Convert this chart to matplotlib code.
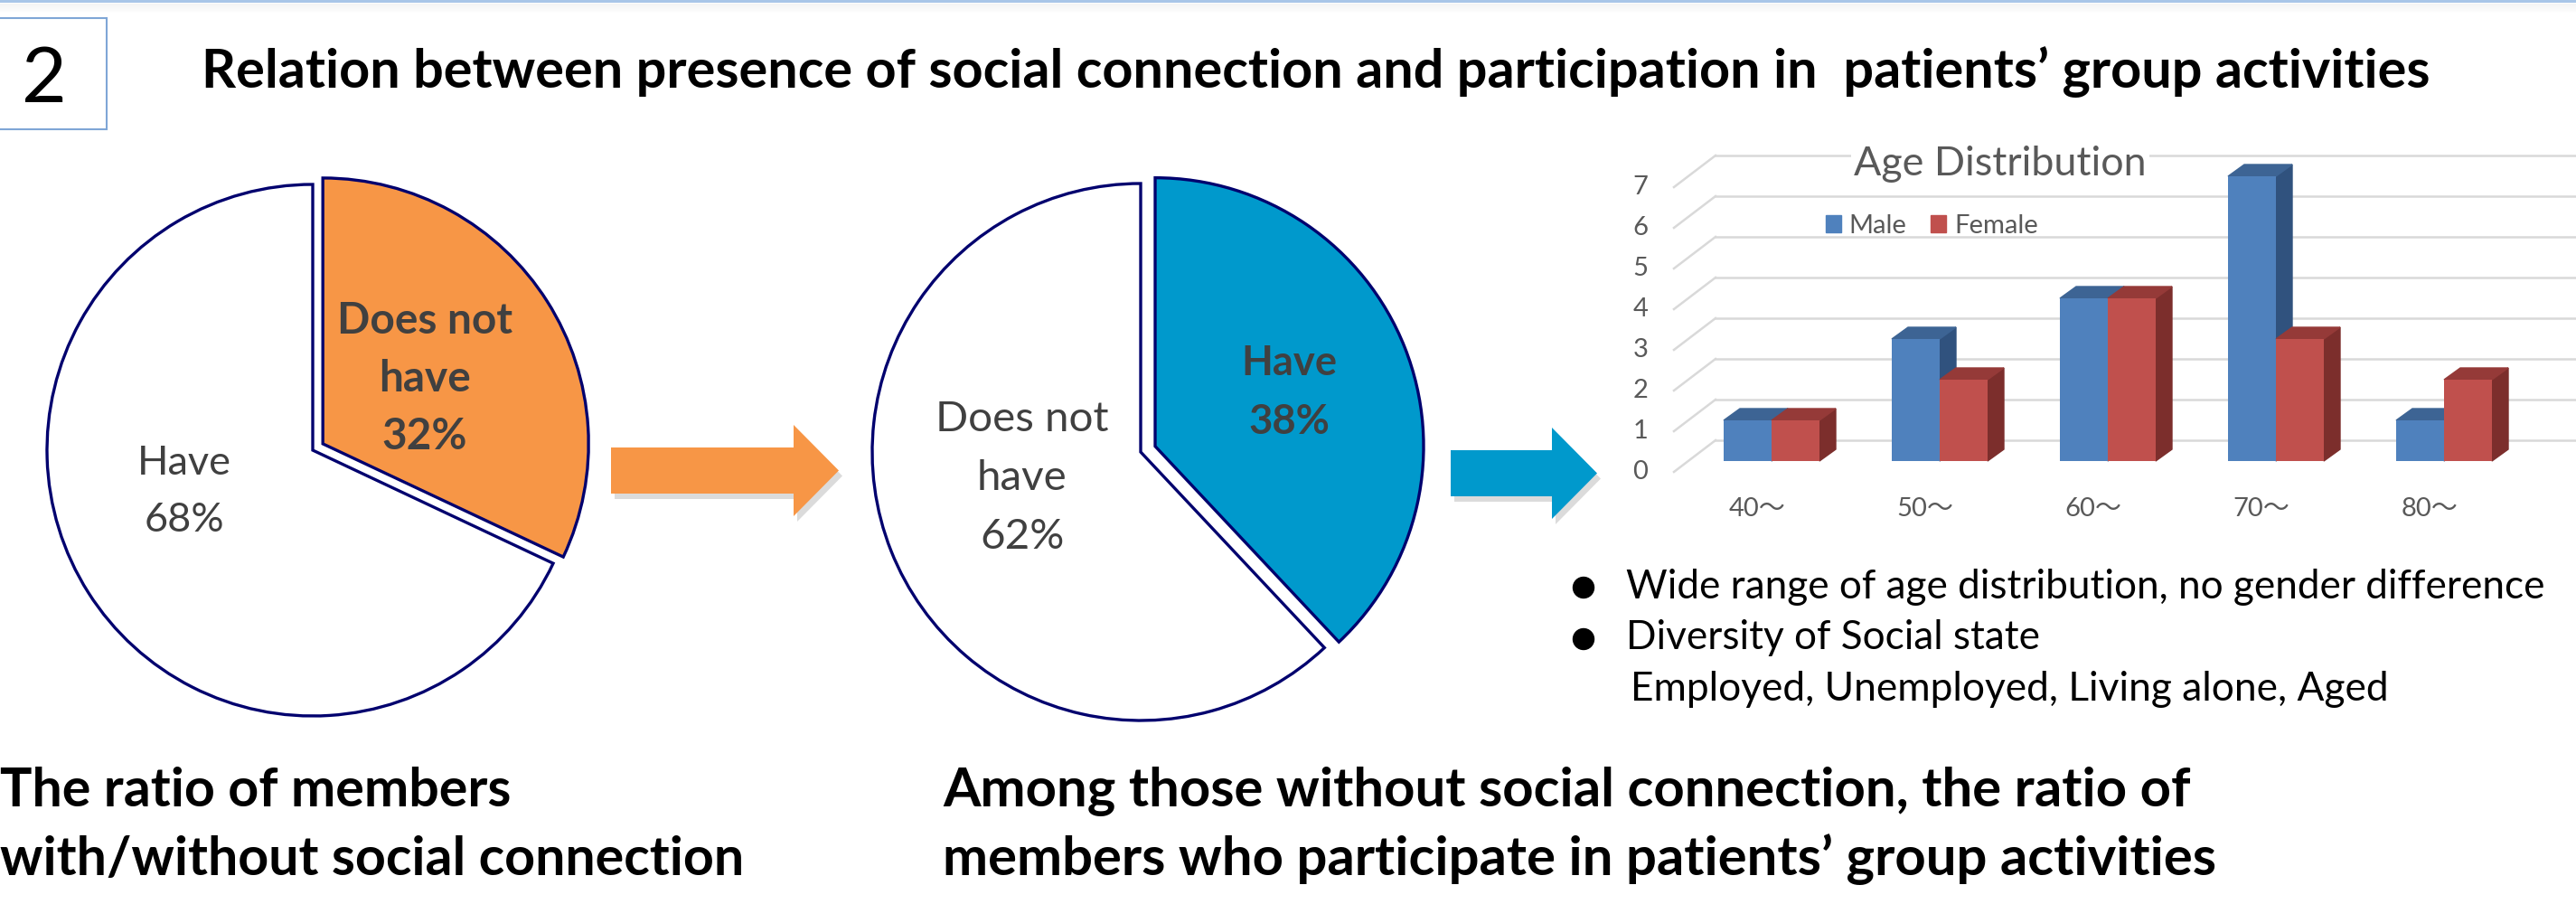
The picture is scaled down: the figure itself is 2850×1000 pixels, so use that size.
import matplotlib
matplotlib.use('Agg')
import matplotlib.pyplot as plt
from matplotlib.patches import Polygon, Rectangle, Circle, Patch

# data
pie1_names = ['Does not\nhave', 'Have']
pie1_values = [32, 68]
pie2_names = ['Have', 'Does not\nhave']
pie2_values = [38, 62]

ages = ['40～', '50～', '60～', '70～', '80～']
male = [1, 3, 4, 7, 1]
female = [1, 2, 4, 3, 2]

W, H = 2850, 1000
ORANGE = '#F79646'
BLUE = '#0099CC'
NAVY = '#00006E'
TXT = '#404040'
GREY = '#595959'
FONT = ['Lato', 'Noto Sans CJK JP', 'DejaVu Sans']
plt.rcParams['font.family'] = FONT

fig = plt.figure(figsize=(W / 100, H / 100), dpi=100)
rend = fig.canvas.get_renderer()


def pie_axes(cx, cy, r, pad=1.1):
    s = r * pad
    ax = fig.add_axes([(cx - s) / W, 1 - (cy + s) / H, 2 * s / W, 2 * s / H])
    return ax


def fit(t, width):
    w = t.get_window_extent(renderer=rend).width
    t.set_fontsize(t.get_fontsize() * width / w)
    return t.get_fontsize()


# pies
wp = dict(edgecolor=NAVY, linewidth=2.4, joinstyle='miter')
ax1 = pie_axes(346, 498, 294)
ax1.pie(pie1_values, colors=[ORANGE, 'white'], startangle=90, counterclock=False,
        explode=[0.045, 0], wedgeprops=wp)
ax1.set_xlim(-1.1, 1.1)
ax1.set_ylim(-1.1, 1.1)

ax2 = pie_axes(1262, 500, 297)
ax2.pie(pie2_values, colors=[BLUE, 'white'], startangle=90, counterclock=False,
        explode=[0.058, 0], wedgeprops=wp)
ax2.set_xlim(-1.1, 1.1)
ax2.set_ylim(-1.1, 1.1)

# 3d-ish bar chart, value units on y, group index on x
gx0, gstep = 1960, 186      # px of first group centre, px per group
y0, ystep = 510, 45         # px of bar baseline, px per unit
bx0, bx1, by0, by1 = 1740, 2850, 150, 600
ax3 = fig.add_axes([bx0 / W, 1 - by1 / H, (bx1 - bx0) / W, (by1 - by0) / H])
ax3.set_xlim((bx0 - gx0) / gstep, (bx1 - gx0) / gstep)
ax3.set_ylim((y0 - by1) / ystep, (y0 - by0) / ystep)
ax3.axis('off')

dx, dy = 18 / gstep, 13 / ystep
wall_x0, wall_x1 = (1852 - gx0) / gstep, (1898 - gx0) / gstep
front_off, back_off = -12 / ystep, 23 / ystep
xr = ax3.get_xlim()[1]
for k in range(8):
    ax3.plot([wall_x0, wall_x1], [k + front_off, k + back_off], color='#D9D9D9', lw=1.8, zorder=1)
    ax3.plot([wall_x1, xr], [k + back_off] * 2, color='#D9D9D9', lw=1.8, zorder=1)
    ax3.text(wall_x0 - 0.2, k + front_off, str(k), ha='center', va='center',
             fontsize=21, color=GREY)

bw = 53 / gstep
series = [(male, -bw, ['#4F81BD', '#3D6494', '#30527E']),
          (female, 0, ['#C0504D', '#953A38', '#7C2E2C'])]
z = 2
for vals, off, (cf, ct, cs) in series:
    xs = [i + off for i in range(len(vals))]
    for x, v in zip(xs, vals):
        ax3.add_patch(Polygon([(x + bw, 0), (x + bw + dx, dy), (x + bw + dx, v + dy), (x + bw, v)],
                              closed=True, color=cs, zorder=z))
        ax3.add_patch(Polygon([(x, v), (x + dx, v + dy), (x + bw + dx, v + dy), (x + bw, v)],
                              closed=True, color=ct, zorder=z + 0.1))
    ax3.bar(xs, vals, width=bw, align='edge', color=cf, zorder=z + 0.2)
    z += 0.5

for i, a in enumerate(ages):
    ax3.text(i - 16 / gstep, (y0 - 563) / ystep, a, ha='center', va='center',
             fontsize=21, color=GREY)

atitle = ax3.text((2213 - gx0) / gstep, (y0 - 182) / ystep, 'Age Distribution', ha='center', va='center',
                  fontsize=28, color=GREY, zorder=5,
                  bbox=dict(facecolor='white', edgecolor='none', pad=2))
fit(atitle, 324)
ax3.legend(handles=[Patch(color='#4F81BD'), Patch(color='#C0504D')], labels=['Male', 'Female'],
           ncol=2, loc='center left', frameon=False,
           bbox_to_anchor=((2005 - bx0) / (bx1 - bx0), (by1 - 250) / (by1 - by0)),
           handlelength=0.6, handleheight=0.6, handletextpad=0.3, columnspacing=0.9,
           borderpad=0, labelcolor=GREY, prop=dict(family=FONT, size=21))

# overlay for text, arrows, frame
ov = fig.add_axes([0, 0, 1, 1])
ov.set_xlim(0, W)
ov.set_ylim(H, 0)
ov.axis('off')

# top band
ov.fill_between([0, W], 0, 3, color='#A9C6E8', lw=0)
for j in range(10):
    ov.plot([0, W], [3.5 + j] * 2, color='#808080', alpha=0.06 * (1 - j / 10), lw=1)

ov.add_patch(Rectangle((-5, 20), 123, 123, fill=False, edgecolor='#7FA6D6', lw=1.5))
ov.text(49, 113, '2', ha='center', va='baseline', fontsize=62, color='black')


def lines(x, ys, strs, width, ref=None, ha='center', **kw):
    ts = [ov.text(x, y, s, ha=ha, va='baseline', fontsize=30, **kw) for y, s in zip(ys, strs)]
    if ref is None:
        target = max(ts, key=lambda t: t.get_window_extent(renderer=rend).width)
    else:
        target = ts[ref]
    fs = fit(target, width)
    for t in ts:
        t.set_fontsize(fs)
    return ts


title = ov.text(223, 97, 'Relation between presence of social connection and participation in  patients’ group activities',
                ha='left', va='baseline', fontsize=40, fontweight='bold', color='black')
fit(title, 2463)

# pie labels
lines(470, [369, 433, 497], pie1_names[0].split('\n') + [f'{pie1_values[0]}%'], 194,
      fontweight='bold', color=TXT)
lines(204, [525, 588], [pie1_names[1], f'{pie1_values[1]}%'], 104, color=TXT)
lines(1426, [415, 480], [pie2_names[0], f'{pie2_values[0]}%'], 106, fontweight='bold', color=TXT)
lines(1131, [477, 542, 607], pie2_names[1].split('\n') + [f'{pie2_values[1]}%'], 191, color=TXT)


# arrows
def arrow(x0, xb, xt, yb0, yb1, yh0, yh1, color):
    yt = (yh0 + yh1) / 2
    pts = [(x0, yb0), (xb, yb0), (xb, yh0), (xt, yt), (xb, yh1), (xb, yb1), (x0, yb1)]
    sh = [(px + 4, py + 6) for px, py in pts]
    ov.add_patch(Polygon(sh, closed=True, color='#9A9A9A', alpha=0.35, lw=0))
    ov.add_patch(Polygon(pts, closed=True, color=color, lw=0))


arrow(676, 878, 928, 495, 546, 470, 571, ORANGE)
arrow(1605, 1717, 1767, 498, 549, 473, 574, BLUE)

# bullets
for cy in (650, 707):
    ov.add_patch(Circle((1752, cy), 11.5, color='black'))
lines(1799, [662, 718], ['Wide range of age distribution, no gender difference',
                         'Diversity of Social state'], 1016, ref=0, ha='left', color='black')
t3 = ov.text(1804, 775, 'Employed, Unemployed, Living alone, Aged', ha='left', va='baseline',
             fontsize=30, color='black')
fit(t3, 2641 - 1804)

# captions
lines(0, [892, 968], ['The ratio of members', 'with/without social connection'], 823, ref=1,
      ha='left', fontweight='bold', color='black')
lines(1043, [892, 968], ['Among those without social connection, the ratio of',
                         'members who participate in patients’ group activities'], 1378, ref=0,
      ha='left', fontweight='bold', color='black')

fig.savefig('out.png', dpi=100)
